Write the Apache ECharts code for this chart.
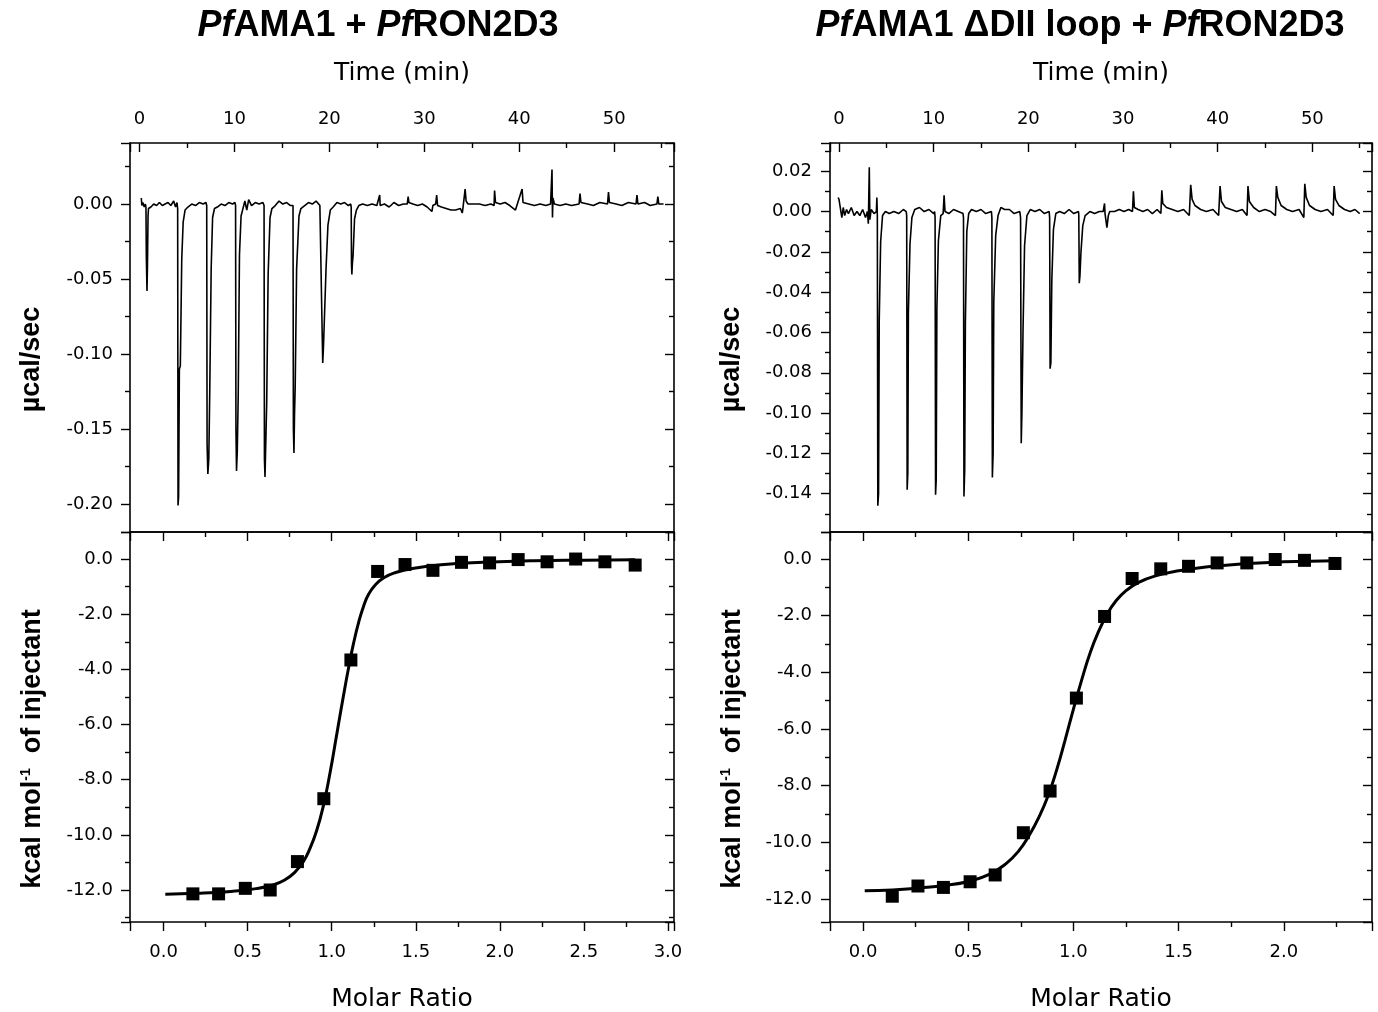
<!DOCTYPE html>
<html>
<head>
<meta charset="UTF-8">
<title>ITC PfAMA1 / PfRON2D3</title>
<script src="https://cdn.jsdelivr.net/npm/echarts@6.0.0/dist/echarts.min.js"></script>
<style>
    html, body { margin: 0; padding: 0; background: #fff; }
    #chart { width: 1378px; height: 1012px; }
</style>
</head>
<body>
<div id="chart"></div>
<script>
    // ---- raw thermogram, left (time in min, power in µcal/sec) ----
    const leftThermogram = [
        [0.19, 0.004], [0.25, -0.001], [0.35, 0.001], [0.5, -0.002], [0.62, 0.000],
        [0.68, -0.002], [0.72, -0.035], [0.79, -0.058], [0.84, -0.041], [0.9, -0.008], [0.95, -0.003],
        [1.2, -0.002], [1.5, 0.000], [1.8, -0.001], [2.1, 0.001], [2.4, -0.001], [2.7, 0.000], [3.0, 0.001],
        [3.3, -0.001], [3.6, 0.002], [3.8, -0.002], [3.95, 0.001],
        [4.02, -0.003], [4.06, -0.201], [4.12, -0.195], [4.2, -0.110], [4.3, -0.108], [4.45, -0.037],
        [4.6, -0.012], [4.8, -0.004], [5.1, -0.002], [5.5, 0.000], [5.9, -0.001], [6.3, 0.001], [6.7, 0.000], [7.0, 0.001],
        [7.08, -0.001], [7.12, -0.160], [7.2, -0.180], [7.3, -0.170], [7.4, -0.125], [7.55, -0.043],
        [7.7, -0.009], [7.9, -0.003], [8.2, -0.002], [8.6, 0.000], [9.0, -0.001], [9.4, 0.001], [9.8, 0.000], [10.05, 0.001],
        [10.12, -0.001], [10.16, -0.150], [10.22, -0.178], [10.3, -0.165], [10.4, -0.127], [10.53, -0.034],
        [10.7, -0.008], [10.9, -0.003], [11.1, 0.002], [11.3, -0.004], [11.5, 0.003], [11.8, -0.001], [12.2, 0.001],
        [12.6, 0.000], [13.0, 0.001],
        [13.12, -0.001], [13.16, -0.170], [13.22, -0.182], [13.3, -0.160], [13.4, -0.132], [13.55, -0.047],
        [13.75, -0.009], [13.95, -0.003], [14.3, -0.001], [14.7, 0.002], [15.1, 0.000], [15.5, 0.001], [15.9, -0.001], [16.1, 0.000],
        [16.17, -0.001], [16.21, -0.150], [16.27, -0.166], [16.33, -0.140], [16.4, -0.122], [16.55, -0.043],
        [16.8, -0.008], [17.0, -0.003], [17.4, -0.001], [17.8, 0.001], [18.2, 0.000], [18.6, 0.002], [19.0, -0.001], [19.15, 0.000],
        [19.2, -0.002], [19.24, -0.085], [19.3, -0.106], [19.38, -0.095], [19.47, -0.094], [19.65, -0.043],
        [19.85, -0.014], [20.1, -0.004], [20.4, -0.002], [20.8, 0.001], [21.2, 0.000], [21.6, 0.001], [22.0, -0.001], [22.25, 0.000],
        [22.3, -0.002], [22.33, -0.040], [22.37, -0.047], [22.42, -0.040], [22.5, -0.034], [22.65, -0.010],
        [22.85, -0.004], [23.1, -0.001], [23.5, 0.000], [24.0, -0.001], [24.5, 0.000], [25.0, -0.001],
        [25.2, 0.000], [25.3, 0.006], [25.35, -0.001], [25.8, 0.000], [26.3, -0.002], [26.8, 0.001], [27.3, -0.001],
        [27.8, 0.000], [28.2, 0.000], [28.3, 0.005], [28.38, 0.001], [28.8, 0.000], [29.3, -0.001], [29.8, 0.000],
        [30.3, -0.002], [30.8, -0.005], [30.9, -0.001], [31.2, 0.000], [31.3, 0.006], [31.4, -0.001], [31.8, -0.002],
        [32.3, -0.003], [32.8, -0.004], [33.3, -0.004], [33.8, -0.003], [34.0, -0.006], [34.1, -0.001], [34.3, 0.010],
        [34.4, 0.002], [34.6, 0.000], [35.2, 0.000], [35.8, 0.000], [36.4, -0.001], [37.0, 0.000], [37.35, -0.001],
        [37.4, 0.009], [37.5, 0.001], [38.0, 0.000], [38.5, 0.001], [39.0, -0.001], [39.6, -0.004], [39.8, 0.000],
        [40.3, 0.010], [40.4, 0.001], [41.0, 0.000], [41.6, -0.001], [42.2, 0.000], [42.8, -0.001], [43.3, 0.000],
        [43.45, 0.023], [43.5, -0.009], [43.55, 0.004], [43.7, 0.000], [44.3, -0.001], [44.9, 0.000], [45.5, -0.001],
        [46.3, 0.000], [46.4, 0.007], [46.5, 0.001], [47.2, 0.000], [47.8, -0.001], [48.5, 0.001], [49.3, 0.000],
        [49.4, 0.008], [49.5, 0.001], [50.2, 0.000], [50.8, -0.001], [51.5, 0.001], [52.3, 0.000], [52.4, 0.006],
        [52.5, 0.000], [53.2, 0.001], [53.8, -0.001], [54.5, 0.000], [54.6, 0.005], [54.7, 0.000], [55.2, 0.000]
    ];

    // ---- raw thermogram, right ----
    const rightThermogram = [
        [-0.08, 0.007], [0.0, 0.006], [0.1, 0.003], [0.3, -0.003], [0.45, 0.002], [0.6, -0.002], [0.8, 0.001],
        [1.0, -0.001], [1.3, 0.002], [1.6, -0.002], [1.9, 0.000], [2.2, -0.002], [2.5, 0.001], [2.8, -0.003],
        [3.0, 0.000], [3.1, -0.006], [3.2, 0.022], [3.26, -0.004], [3.4, 0.001], [3.7, -0.001], [3.95, 0.000], [4.0, 0.007],
        [4.05, -0.002], [4.1, -0.146], [4.18, -0.140], [4.25, -0.054], [4.4, -0.015], [4.6, -0.002], [4.9, 0.000],
        [5.3, -0.001], [5.8, 0.000], [6.3, -0.001], [6.8, 0.001], [7.1, 0.000],
        [7.15, -0.002], [7.2, -0.138], [7.27, -0.130], [7.33, -0.050], [7.5, -0.016], [7.7, -0.003], [8.0, 0.001],
        [8.5, 0.002], [9.0, 0.000], [9.5, 0.001], [10.0, -0.001], [10.1, 0.000],
        [10.15, -0.003], [10.2, -0.1405], [10.27, -0.133], [10.34, -0.048], [10.5, -0.0145], [10.75, -0.002],
        [11.0, -0.001], [11.1, 0.008], [11.2, 0.000], [11.6, -0.001], [12.1, 0.001], [12.6, 0.000], [13.1, -0.001],
        [13.15, -0.003], [13.2, -0.1414], [13.28, -0.128], [13.35, -0.055], [13.5, -0.010], [13.7, -0.001],
        [14.0, 0.001], [14.5, 0.000], [15.0, 0.001], [15.5, -0.001], [16.1, 0.000],
        [16.15, -0.003], [16.2, -0.132], [16.28, -0.120], [16.35, -0.045], [16.55, -0.012], [16.8, -0.002],
        [17.1, 0.002], [17.5, 0.001], [18.0, 0.001], [18.5, -0.001], [19.1, 0.000],
        [19.18, -0.003], [19.25, -0.115], [19.32, -0.100], [19.44, -0.0585], [19.6, -0.017], [19.85, -0.002],
        [20.2, 0.001], [20.7, 0.000], [21.2, 0.001], [21.7, -0.001], [22.2, 0.000],
        [22.25, -0.003], [22.3, -0.078], [22.38, -0.075], [22.48, -0.034], [22.65, -0.009], [22.9, -0.001],
        [23.3, 0.000], [23.8, -0.001], [24.3, 0.001], [24.8, -0.001], [25.3, 0.000],
        [25.33, -0.002], [25.38, -0.0356], [25.45, -0.032], [25.56, -0.020], [25.75, -0.007], [26.0, -0.002],
        [26.5, 0.000], [27.0, -0.001], [27.5, 0.000], [27.9, 0.000], [28.05, 0.004], [28.1, -0.001], [28.3, -0.008],
        [28.45, -0.002], [28.6, 0.000], [29.1, 0.000], [29.6, 0.001], [30.1, 0.000], [30.6, 0.001], [31.0, 0.000],
        [31.1, 0.010], [31.2, 0.002], [31.6, 0.001], [32.1, 0.000], [32.6, 0.001], [33.1, -0.001], [33.6, 0.001],
        [34.0, -0.001], [34.1, 0.0105], [34.2, 0.004], [34.6, 0.002], [35.2, 0.001], [35.8, 0.000], [36.4, 0.001],
        [37.0, -0.002], [37.15, 0.0133], [37.3, 0.006], [37.6, 0.003], [38.2, 0.001], [38.8, 0.000], [39.5, 0.001],
        [40.1, -0.002], [40.25, 0.0126], [40.4, 0.005], [40.8, 0.002], [41.4, 0.001], [42.0, 0.000], [42.6, 0.001],
        [43.1, -0.002], [43.2, 0.0126], [43.35, 0.005], [43.8, 0.002], [44.4, 0.000], [45.0, 0.001], [45.6, 0.000],
        [46.1, -0.002], [46.2, 0.0126], [46.35, 0.007], [46.7, 0.003], [47.3, 0.001], [47.9, 0.000], [48.6, 0.001],
        [49.1, -0.003], [49.2, 0.0138], [49.35, 0.007], [49.7, 0.003], [50.3, 0.001], [50.9, 0.000], [51.6, 0.001],
        [52.2, -0.002], [52.3, 0.0126], [52.45, 0.006], [52.8, 0.003], [53.4, 0.001], [54.0, 0.000], [54.5, 0.001],
        [55.0, -0.001]
    ];

    // ---- integrated heats (molar ratio, kcal/mol) ----
    const leftRatio = [0.174, 0.327, 0.486, 0.634, 0.796, 0.953, 1.114, 1.273, 1.436, 1.602, 1.772, 1.939, 2.109, 2.281, 2.451, 2.625, 2.805];
    const leftHeat = [-12.14, -12.14, -11.94, -12.0, -10.97, -8.69, -3.66, -0.45, -0.20, -0.41, -0.12, -0.14, -0.02, -0.10, 0.0, -0.10, -0.22];
    const rightRatio = [0.139, 0.261, 0.382, 0.509, 0.628, 0.762, 0.889, 1.014, 1.148, 1.279, 1.415, 1.547, 1.683, 1.824, 1.959, 2.098, 2.243];
    const rightHeat = [-11.90, -11.54, -11.59, -11.39, -11.15, -9.66, -8.19, -4.91, -2.03, -0.69, -0.35, -0.26, -0.14, -0.14, -0.02, -0.05, -0.16];

    // ---- fitted curves ----
    const leftFitRatio = [0.01, 0.2, 0.4, 0.55, 0.65, 0.72, 0.78, 0.83, 0.87, 0.91, 0.95, 0.99, 1.03, 1.07, 1.10, 1.13, 1.16, 1.19, 1.22, 1.26, 1.31, 1.38, 1.48, 1.65, 1.9, 2.2, 2.5, 2.805];
    const leftFitHeat = [-12.15, -12.12, -12.05, -11.95, -11.82, -11.64, -11.36, -10.98, -10.50, -9.85, -8.95, -7.75, -6.35, -4.95, -3.95, -3.05, -2.30, -1.70, -1.27, -0.93, -0.68, -0.49, -0.34, -0.21, -0.12, -0.06, -0.04, -0.03];
    const rightFitRatio = [0.008, 0.14, 0.27, 0.39, 0.5, 0.6, 0.68, 0.74, 0.79, 0.84, 0.88, 0.92, 0.96, 1.0, 1.04, 1.08, 1.12, 1.16, 1.20, 1.25, 1.31, 1.39, 1.50, 1.65, 1.83, 2.0, 2.243];
    const rightFitHeat = [-11.71, -11.68, -11.61, -11.52, -11.38, -11.13, -10.75, -10.30, -9.75, -9.05, -8.35, -7.45, -6.40, -5.30, -4.25, -3.30, -2.55, -1.95, -1.50, -1.12, -0.83, -0.60, -0.42, -0.27, -0.16, -0.10, -0.06];

    const zip = (a, b) => a.map((v, i) => [v, b[i]]);

    // label only the "nice" ticks, hide the range ends
    function stepLabel(step, digits) {
        return function (v) {
            const r = Math.round(v / step);
            return Math.abs(v - r * step) < step * 1e-4 ? (r * step).toFixed(digits) : '';
        };
    }

    const black = '#000';
    const tickFont = { color: black, fontFamily: 'DejaVu Sans', fontSize: 18 };
    const nameFont = { color: black, fontFamily: 'DejaVu Sans', fontSize: 25 };
    const yNameFont = {
        color: black, fontFamily: 'Liberation Sans', fontWeight: 'bold', fontSize: 27,
        padding: [0, 44, 0, 0],
        rich: { s: { fontFamily: 'Liberation Sans', fontWeight: 'bold', fontSize: 14, verticalAlign: 'top', color: black } }
    };

    function axis(gridIndex, position, min, max, splitNumber, o) {
        const showTicks = o.ticks !== false;
        return {
            type: 'value', gridIndex: gridIndex, position: position,
            min: min, max: max, splitNumber: splitNumber,
            axisLine: { show: true, onZero: false, lineStyle: { color: black, width: 1.6 } },
            axisTick: { show: showTicks, inside: !!o.inside, length: 9, lineStyle: { color: black, width: 1.4 } },
            minorTick: { show: showTicks, splitNumber: 2, length: 5, lineStyle: { color: black, width: 1.4 } },
            axisLabel: o.labels
                ? Object.assign({ show: true, margin: o.margin, formatter: o.labels, hideOverlap: false }, tickFont)
                : { show: false },
            splitLine: { show: false },
            name: o.name || '', nameLocation: 'middle', nameGap: o.nameGap || 0,
            nameTextStyle: o.nameStyle || {}
        };
    }

    const grids = [
        { left: 130, top: 143, width: 544, height: 389 },  // top-left
        { left: 130, top: 532, width: 544, height: 390 },  // bottom-left
        { left: 830, top: 143, width: 542, height: 389 },  // top-right
        { left: 830, top: 532, width: 542, height: 390 }   // bottom-right
    ];

    const timeLabel = stepLabel(10, 0);
    const ratioLabel = stepLabel(0.5, 1);

    const xAxes = [
        axis(0, 'top', -1, 56.3, 5, { inside: true, labels: timeLabel, margin: 15, name: 'Time (min)', nameGap: 57, nameStyle: nameFont }),
        axis(0, 'bottom', -1, 56.3, 5, { ticks: false }),
        axis(1, 'bottom', -0.2, 3.036, 6, { labels: ratioLabel, margin: 21, name: 'Molar Ratio', nameGap: 65, nameStyle: nameFont }),
        axis(1, 'top', -0.2, 3.036, 6, { inside: true }),
        axis(2, 'top', -0.95, 56.3, 5, { inside: true, labels: timeLabel, margin: 15, name: 'Time (min)', nameGap: 57, nameStyle: nameFont }),
        axis(2, 'bottom', -0.95, 56.3, 5, { ticks: false }),
        axis(3, 'bottom', -0.157, 2.419, 5, { labels: ratioLabel, margin: 21, name: 'Molar Ratio', nameGap: 65, nameStyle: nameFont }),
        axis(3, 'top', -0.157, 2.419, 5, { inside: true })
    ];

    const yAxes = [
        axis(0, 'left', -0.2187, 0.0407, 5, { labels: stepLabel(0.05, 2), margin: 17, name: 'µcal/sec', nameGap: 85, nameStyle: yNameFont }),
        axis(0, 'right', -0.2187, 0.0407, 5, { inside: true }),
        axis(1, 'left', -13.16, 0.98, 7, { labels: stepLabel(2, 1), margin: 17, name: 'kcal mol{s|-1}  of injectant', nameGap: 84, nameStyle: yNameFont }),
        axis(1, 'right', -13.16, 0.98, 7, { inside: true }),
        axis(2, 'left', -0.159, 0.034, 10, { labels: stepLabel(0.02, 2), margin: 18, name: 'µcal/sec', nameGap: 85, nameStyle: yNameFont }),
        axis(2, 'right', -0.159, 0.034, 10, { inside: true }),
        axis(3, 'left', -12.81, 0.95, 7, { labels: stepLabel(2, 1), margin: 18, name: 'kcal mol{s|-1}  of injectant', nameGap: 84, nameStyle: yNameFont }),
        axis(3, 'right', -12.81, 0.95, 7, { inside: true })
    ];

    function trace(data, xi, yi) {
        return {
            type: 'line', data: data, xAxisIndex: xi, yAxisIndex: yi,
            symbol: 'none', silent: true, clip: true,
            lineStyle: { color: black, width: 1.6 }
        };
    }
    function fit(data, xi, yi) {
        return {
            type: 'line', data: data, xAxisIndex: xi, yAxisIndex: yi,
            symbol: 'none', smooth: 0.5, silent: true,
            lineStyle: { color: black, width: 3 }, z: 2
        };
    }
    function points(data, xi, yi) {
        return {
            type: 'scatter', data: data, xAxisIndex: xi, yAxisIndex: yi,
            symbol: 'rect', symbolSize: 13, silent: true,
            itemStyle: { color: black, opacity: 1 }, z: 3
        };
    }

    const titleRich = {
        i: { fontFamily: 'Liberation Sans', fontWeight: 'bold', fontStyle: 'italic', fontSize: 36, color: black },
        b: { fontFamily: 'Liberation Sans', fontWeight: 'bold', fontSize: 36, color: black }
    };

    const chart = echarts.init(document.getElementById('chart'), null, { renderer: 'canvas' });
    chart.setOption({
        animation: false,
        backgroundColor: '#fff',
        title: [
            { text: '{i|Pf}{b|AMA1 + }{i|Pf}{b|RON2D3}', left: 378, top: 8, textAlign: 'center', padding: 0, textStyle: { rich: titleRich } },
            { text: '{i|Pf}{b|AMA1 ΔDII loop + }{i|Pf}{b|RON2D3}', left: 1080, top: 8, textAlign: 'center', padding: 0, textStyle: { rich: titleRich } }
        ],
        grid: grids.map(g => Object.assign({ outerBoundsMode: 'none' }, g)),
        xAxis: xAxes,
        yAxis: yAxes,
        series: [
            trace(leftThermogram, 0, 0),
            fit(zip(leftFitRatio, leftFitHeat), 2, 2),
            points(zip(leftRatio, leftHeat), 2, 2),
            trace(rightThermogram, 4, 4),
            fit(zip(rightFitRatio, rightFitHeat), 6, 6),
            points(zip(rightRatio, rightHeat), 6, 6)
        ]
    });
</script>
</body>
</html>
